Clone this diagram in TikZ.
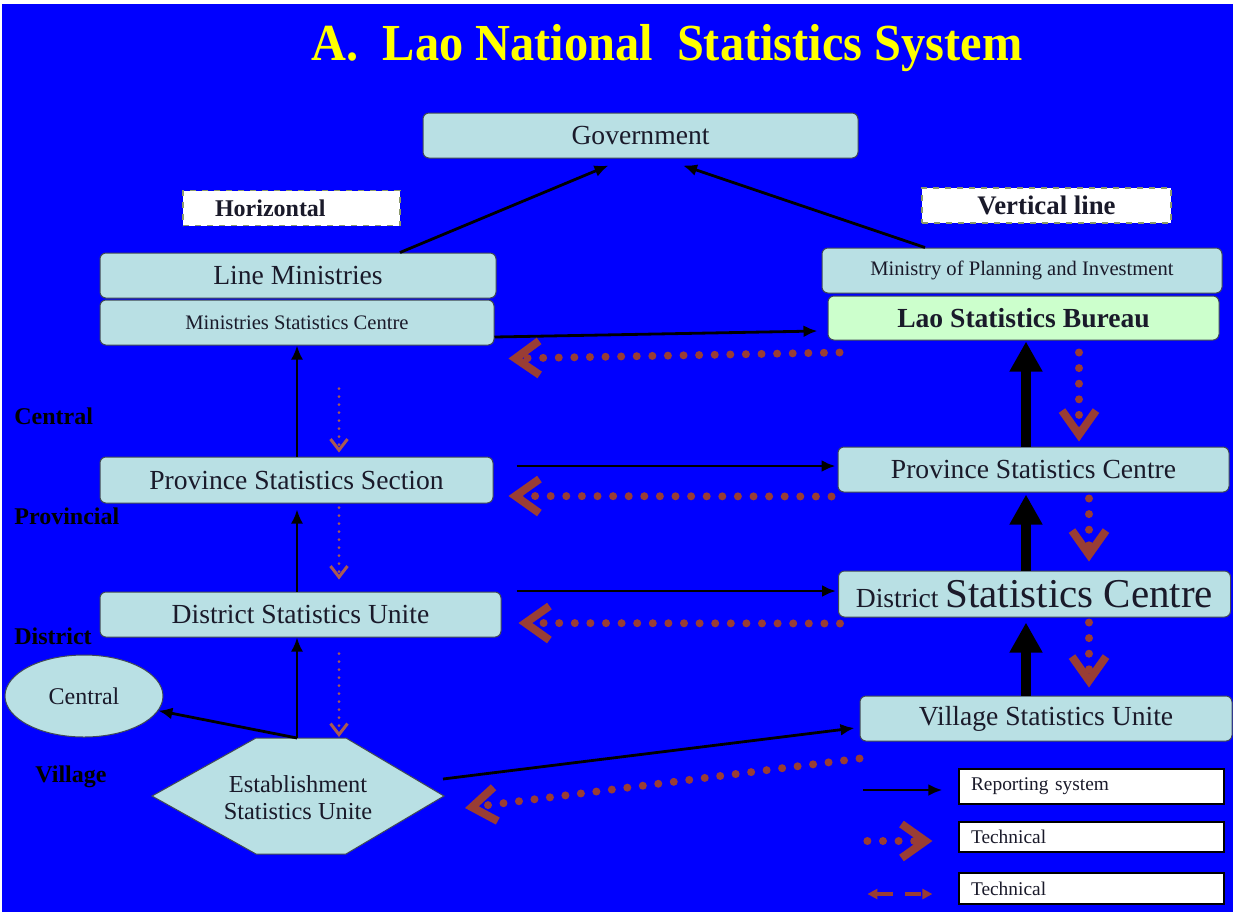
\documentclass[tikz,border=0pt]{standalone}
\usepackage{fontspec}
\setmainfont{Liberation Serif}
\usepackage{graphicx}
\usetikzlibrary{arrows.meta,positioning,calc,shapes.geometric}
\definecolor{slide}{HTML}{0000FF}
\definecolor{pcyan}{HTML}{B9E0E4}
\definecolor{pgreen}{HTML}{CCFFCC}
\definecolor{pedge}{HTML}{404A55}
\definecolor{ink}{HTML}{1A1A2A}
\definecolor{tbrown}{HTML}{993D35}
\definecolor{ttitle}{HTML}{FFFF00}
\definecolor{tagedge}{HTML}{8C9A6A}
\newcommand{\bigtxt}{\fontsize{13.8}{16}\selectfont}
\newcommand{\smalltxt}{\fontsize{10.3}{12}\selectfont}
\newcommand{\legtxt}{\fontsize{9.7}{11}\selectfont}
\tikzset{
  % pale slide boxes with a thin dark edge
  unit/.style    = {rectangle, rounded corners=3pt, draw=pedge, fill=#1, line width=0.5pt,
                    align=center, text=ink, inner sep=3pt, font=\bigtxt, minimum height=22.5pt},
  unit/.default  = pcyan,
  tagbox/.style  = {rectangle, draw=tagedge, dashed, fill=white, line width=0.6pt,
                    text=ink, inner sep=2pt, minimum height=17.5pt},
  legbox/.style  = {rectangle, draw=black, fill=white, line width=0.6pt, text=ink, font=\legtxt,
                    align=left, inner xsep=6pt, text width=120.5pt},
  lvl/.style     = {anchor=west, inner sep=0pt, text=black, font=\fontsize{12}{14}\selectfont\bfseries},
  rep/.style     = {-{Latex[length=7pt, width=6pt]}, line width=1.4pt, black},
  spine/.style   = {-{Triangle[length=15pt, width=15.5pt]}, line width=5pt, black},
  tech/.style    = {line width=4pt, tbrown, line cap=round, dash pattern=on 0pt off 7.8pt,
                    -{Straight Barb[length=12pt, width=17pt, line width=4pt]}},
  thin tech/.style = {line width=1.5pt, tbrown!85!white, line cap=round, dash pattern=on 0pt off 4pt,
                    -{Straight Barb[length=5.5pt, width=8.5pt, line width=1.5pt]}},
  tech dash/.style = {line width=1.8pt, tbrown, dash pattern=on 8pt off 6pt,
                    {Triangle[length=5pt, width=5pt]}-{Triangle[length=5pt, width=5pt]}},
}

\begin{document}
\begin{tikzpicture}[x=0.5pt, y=-0.5pt]
\useasboundingbox (0,0) rectangle (1233,912);
\fill[white] (0,0) rectangle (1233,912);
\fill[slide] (2,4) rectangle (1233,912);

\node[text=ttitle, font=\fontsize{26}{30}\selectfont\bfseries] (ttl) at (667,48)
  {\scalebox{0.93}[1]{A.\ \ Lao National\ \ Statistics System}};

% boxes
\node[unit, minimum width=217.5pt] (gov) at (640.5,135.5) {Government};
\node[tagbox, minimum width=108.5pt, text width=76.5pt, inner xsep=16pt, align=left,
      font=\fontsize{12}{14}\selectfont\bfseries] (hor) at (291.5,208) {Horizontal};
\node[tagbox, minimum width=124.5pt, font=\fontsize{13.4}{15}\selectfont\bfseries] (ver) at (1046.5,205.5) {Vertical line};
\node[unit, minimum width=198pt]   (lm)  at (298,275.5)  {Line Ministries};
\node[unit, minimum width=197pt, font=\smalltxt] (msc) at (297,322.5) {Ministries Statistics Centre};
\node[unit, minimum width=200pt, font=\smalltxt] (mpi) at (1022,270.5) {Ministry of Planning and Investment};
\node[unit=pgreen, minimum width=195.5pt, minimum height=22pt, font=\bigtxt\bfseries] (lsb) at (1023.5,318) {Lao Statistics Bureau};
\node[unit, minimum width=196.5pt, minimum height=23pt] (pss) at (296.5,480) {Province Statistics Section};
\node[unit, minimum width=195.5pt] (psc) at (1033.5,469.5) {Province Statistics Centre};
\node[unit, minimum width=200.5pt] (dsu) at (300.5,614.5) {District Statistics Unite};
\node[unit, minimum width=196pt, minimum height=23pt] (dsc) at (1034.5,594)
  {District {\fontsize{20.5}{22}\selectfont Statistics Centre}};
\node[unit, minimum width=186pt] (vsu) at (1046,718.5) {Village Statistics Unite};
\node[unit, ellipse, minimum width=79pt, minimum height=41pt, font=\fontsize{12}{14}\selectfont] (cen) at (84,696) {Central};
\draw[draw=pedge, fill=pcyan, line width=0.5pt]
  (152,796) -- (256,738) -- (346,738) -- (444,796) -- (346,854) -- (256,854) -- cycle;
\node[text=ink, align=center, font=\fontsize{12.2}{13.5}\selectfont] (esu) at (298,798) {Establishment\\Statistics Unite};
\coordinate (esutop) at (297,738);
\coordinate (esuright) at (444,796);
\coordinate (esuout) at (443,779);

% levels
\node[lvl] (lv1) at (14,416) {Central};
\node[lvl] (lv2) at (14,516) {Provincial};
\node[lvl] (lv3) at (14,636) {District};
\node[lvl] (lv4) at (35,777) {Village};

% legend
\node[legbox, minimum height=17.5pt] (leg1) at (1091.5,786.5) {Reporting system};
\node[legbox, minimum height=15pt]   (leg2) at (1091.5,837)   {Technical};
\node[legbox, minimum height=15.5pt] (leg3) at (1091.5,888.5) {Technical};

% columns
\coordinate (lcol)  at (297,0);
\coordinate (dcol)  at (339,0);
\coordinate (spine) at (1026,0);
\coordinate (drop)  at (1079,0);
\coordinate (drop2) at (1089,0);

% reporting
\draw[rep] ($(lm.north)+(102,0)$) -- ($(gov.south)+(-32,7)$);
\draw[rep] ($(mpi.north)+(-97,0)$) -- ($(gov.south)+(42.5,7)$);
\draw[rep] ($(msc.east)+(0,14.5)$) -- ($(lsb.west)+(-10,13)$);
\draw[rep] ($(pss.east)+(23,-14)$) -- ($(psc.west)+(-2,-3.5)$);
\draw[rep] ($(dsu.east)+(15,-23.5)$) -- ($(dsc.west)+(-2,-3)$);
\draw[rep] (esuout) -- ($(vsu.west)+(-5,9.5)$);
\draw[rep, line width=1.2pt] (pss.north -| lcol) -- (msc.south -| lcol);
\draw[rep, line width=1.2pt, shorten >=3pt] (dsu.north -| lcol) -- (pss.south -| lcol);
\draw[rep, line width=1.2pt] (esutop) -- (dsu.south -| lcol);
\draw[rep] (esutop) -- (cen);
\draw[spine] (psc.north -| spine) -- ($(lsb.south -| spine)+(0,1)$);
\draw[spine] (dsc.north -| spine) -- ($(psc.south -| spine)+(0,2)$);
\draw[spine] (vsu.north -| spine) -- ($(dsc.south -| spine)+(0,5)$);

% technical
\draw[tech] ($(lsb.south west)+(12,12)$) -- ($(msc.south east)+(14,13)$);
\draw[tech] ($(psc.south west)+(-6,4)$) -- ($(pss.east)+(15,16)$);
\draw[tech] ($(dsc.south west)+(2,6)$) -- ($(dsu.east)+(17,8.5)$);
\draw[tech] ($(vsu.south west)+(0,17)$) -- ($(esuright)+(21,12)$);
\draw[tech, shorten <=6pt, shorten >=2.5pt] (lsb.south -| drop) -- (psc.north -| drop);
\draw[tech, shorten <=3pt, shorten >=4.5pt] (psc.south -| drop2) -- (dsc.north -| drop2);
\draw[tech, shorten <=2.5pt, shorten >=4pt] (dsc.south -| drop2) -- (vsu.north -| drop2);
\draw[thin tech, shorten <=21.5pt, shorten >=2pt] (msc.south -| dcol) -- (pss.north -| dcol);
\draw[thin tech, shorten <=2pt, shorten >=6pt] (pss.south -| dcol) -- (dsu.north -| dcol);
\draw[thin tech, shorten <=8pt, shorten >=0.5pt] (dsu.south -| dcol) -- (esutop -| dcol);

% legend samples
\draw[rep] ($(leg1.west)+(-95,3.5)$) -- ($(leg1.west)+(-16,3.5)$);
\draw[tech] ($(leg2.west)+(-91,4)$) -- ($(leg2.west)+(-26,4)$);
\draw[tech dash] ($(leg3.west)+(-91,5.5)$) -- ($(leg3.west)+(-26,5.5)$);
\end{tikzpicture}
\end{document}
